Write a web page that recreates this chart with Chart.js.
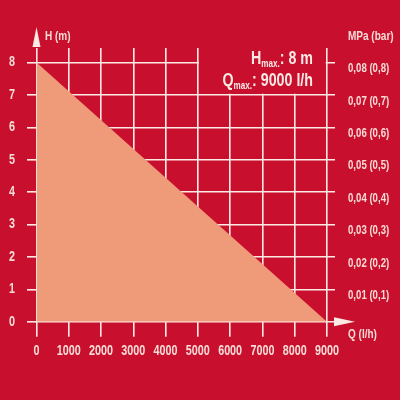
<!DOCTYPE html>
<html>
<head>
<meta charset="utf-8">
<script src="https://cdn.jsdelivr.net/npm/chart.js@4.4.1/dist/chart.umd.min.js"></script>
<style>
  html, body { margin: 0; padding: 0; background: #c8102e; }
  #wrap { width: 400px; height: 400px; }
</style>
</head>
<body>
<div id="wrap"><canvas id="kennlinie" width="400" height="400"></canvas></div>
<script>
// data
const qTicks = [0, 1000, 2000, 3000, 4000, 5000, 6000, 7000, 8000, 9000];
const hTicks = [0, 1, 2, 3, 4, 5, 6, 7, 8];
const mpaLabels = ['', '0,01 (0,1)', '0,02 (0,2)', '0,03 (0,3)', '0,04 (0,4)', '0,05 (0,5)', '0,06 (0,6)', '0,07 (0,7)', '0,08 (0,8)'];
const flowQ = [0, 9000];
const headH = [8, 0];
const hMax = 8;
const qMax = 9000;

const rot = '#c8102e';
const weiss = '#fbe9e4';
const schrift = '#f7dcd6';
const fuellung = '#ef9b7a';
const fontFam = "'Liberation Sans', Arial, sans-serif";
const schmal = 0.77; // no condensed face installed, so squeeze the text

const canvas = document.getElementById('kennlinie');
const ctx2d = canvas.getContext('2d');
const fillTextOrig = ctx2d.fillText.bind(ctx2d);
ctx2d.fillText = (t, x, y) => fillTextOrig(t, x, y, ctx2d.measureText(t).width * schmal);

const fnt = (px) => 'bold ' + px + 'px ' + fontFam;

// red box behind the Hmax/Qmax text, arrows, axis titles
const extras = {
  id: 'extras',
  afterDraw(chart) {
    const ctx = chart.ctx;
    const x = chart.scales.x, y = chart.scales.y;
    const area = chart.chartArea;
    ctx.save();
    ctx.fillStyle = rot;
    ctx.fillRect(x.getPixelForValue(5000) + 1.2, area.top - 2, x.getPixelForValue(9000) - x.getPixelForValue(5000) - 2.4, y.getPixelForValue(7) - area.top + 0.8);

    // arrows
    const x0 = x.getPixelForValue(0), y0 = y.getPixelForValue(0);
    ctx.fillStyle = weiss;
    ctx.beginPath();
    ctx.moveTo(x0, 27);
    ctx.lineTo(x0 - 4, area.top - 1);
    ctx.lineTo(x0 + 4, area.top - 1);
    ctx.closePath();
    ctx.fill();
    ctx.beginPath();
    ctx.moveTo(355, y0);
    ctx.lineTo(area.right - 1, y0 - 4.5);
    ctx.lineTo(area.right - 1, y0 + 4.5);
    ctx.closePath();
    ctx.fill();

    // axis titles
    ctx.fillStyle = schrift;
    ctx.font = fnt(13);
    ctx.textBaseline = 'alphabetic';
    ctx.textAlign = 'left';
    ctx.fillText('H (m)', 45, 39.5);
    ctx.fillText('MPa (bar)', 348, 39.5);
    ctx.fillText('Q (l/h)', 348, 338);

    // Hmax / Qmax
    const zeile = (gross, rest, base) => {
      ctx.font = fnt(18.5);
      const wRest = ctx.measureText(rest).width * schmal;
      ctx.font = fnt(10.5);
      const wSub = ctx.measureText('max.').width * schmal;
      let xr = 313;
      ctx.textAlign = 'right';
      ctx.font = fnt(18.5);
      ctx.fillText(rest, xr, base);
      xr -= wRest;
      ctx.font = fnt(10.5);
      ctx.fillText('max.', xr, base + 3);
      xr -= wSub;
      ctx.font = fnt(18.5);
      ctx.fillText(gross, xr, base);
    };
    ctx.fillStyle = weiss;
    zeile('H', ': ' + hMax + ' m', 63.5);
    zeile('Q', ': ' + qMax + ' l/h', 85.5);
    ctx.restore();
  }
};

new Chart(canvas, {
  type: 'line',
  data: {
    datasets: [{
      label: 'H',
      data: flowQ.map((q, i) => ({ x: q, y: headH[i] })),
      borderWidth: 0,
      pointRadius: 0,
      backgroundColor: fuellung,
      fill: 'origin',
      yAxisID: 'y'
    }]
  },
  options: {
    responsive: false,
    animation: false,
    events: [],
    layout: { padding: { top: 48, left: 0, right: 0, bottom: 0 } },
    plugins: { legend: { display: false }, tooltip: { enabled: false } },
    scales: {
      x: {
        type: 'linear',
        min: 0,
        max: 9250,
        z: 1,
        afterFit(s) { s.height = 78.3; },
        afterBuildTicks(s) { s.ticks = qTicks.map(v => ({ value: v })); },
        border: { display: false },
        grid: { color: weiss, lineWidth: 1.6, tickLength: 15, tickColor: weiss },
        ticks: {
          color: schrift,
          padding: 6.5,
          maxRotation: 0,
          autoSkip: false,
          font: { family: fontFam, size: 14, weight: 'bold' },
          callback: v => String(v)
        }
      },
      y: {
        type: 'linear',
        position: 'left',
        min: 0,
        max: 8.45,
        z: 1,
        afterFit(s) { s.width = 36.5; },
        afterBuildTicks(s) { s.ticks = hTicks.map(v => ({ value: v })); },
        border: { display: false },
        grid: { color: weiss, lineWidth: 1.6, tickLength: 9.5, tickColor: weiss },
        ticks: {
          color: schrift,
          padding: 12,
          font: { family: fontFam, size: 14, weight: 'bold' },
          callback: v => String(v)
        }
      },
      y2: {
        type: 'linear',
        position: 'right',
        min: 0,
        max: 8.45,
        afterFit(s) { s.width = 65; },
        afterBuildTicks(s) { s.ticks = hTicks.map(v => ({ value: v })); },
        border: { display: false },
        grid: { display: false, drawTicks: false },
        ticks: {
          color: schrift,
          padding: 13,
          align: 'start',
          font: { family: fontFam, size: 12.5, weight: 'bold' },
          callback: v => mpaLabels[v]
        }
      }
    }
  },
  plugins: [extras]
});
</script>
</body>
</html>
